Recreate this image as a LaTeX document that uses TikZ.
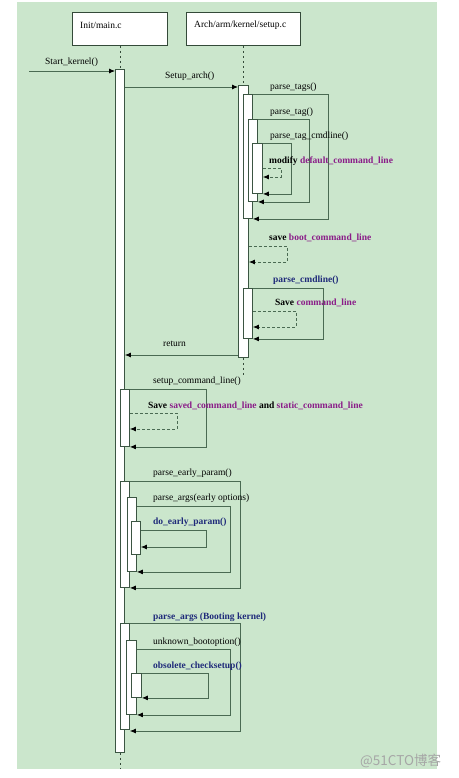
\documentclass[tikz,border=0pt]{standalone}
\usepackage{fontspec}
\setmainfont{Liberation Serif}
\newfontfamily\cjk{Noto Sans CJK SC}
\usetikzlibrary{arrows.meta}
\definecolor{bg}{HTML}{CBE6CC}
\definecolor{ln}{HTML}{4A6A52}
\definecolor{pur}{HTML}{8A1C88}
\definecolor{nav}{HTML}{1F2A7A}
\begin{document}
\begin{tikzpicture}[x=1pt,y=-1pt,
  act/.style={draw=ln!80!black, fill=white, line width=0.9pt, inner sep=0pt, anchor=north west, minimum width=9pt},
  head/.style={draw=ln!70!black, fill=white, line width=0.9pt, inner sep=0pt, anchor=north west, minimum height=33pt},
  msg/.style={draw=ln, line width=0.8pt, -{Latex[length=6pt,width=5pt,fill=black,color=black]}},
  dmsg/.style={msg, dash pattern=on 3pt off 2pt},
  life/.style={draw=ln!70!black, line width=0.9pt, dash pattern=on 2.5pt off 2.5pt},
  lbl/.style={anchor=west, inner sep=0pt, font=\fontsize{9.5}{11}\selectfont},
  blbl/.style={anchor=west, inner sep=0pt, font=\fontsize{9.5}{11}\selectfont\bfseries}
]
\useasboundingbox (0,0) rectangle (458,778);
\fill[white] (0,0) rectangle (458,778);
\fill[bg] (17,2) rectangle (437,769);

% headers
\node[head, minimum width=95pt] (mainH) at (72,12) {};
\node[head, minimum width=114pt] (setH) at (186,12) {};
\node[lbl] (mainHt) at (80,25) {Init/main.c};
\node[lbl] (setHt) at (194,25) {Arch/arm/kernel/setup.c};

% activations
\node[act, minimum height=683pt] (mainA) at (115,69) {};
\node[act, minimum width=10pt, minimum height=272pt] (setA) at (238,85) {};
\node[act, minimum height=124pt] (tagsA) at (243,94) {};
\node[act, minimum height=82pt] (tagA) at (248,119) {};
\node[act, minimum width=10pt, minimum height=50pt] (tcA) at (252,143) {};
\node[act, minimum height=50pt] (cmdA) at (243,288) {};
\node[act, minimum height=57pt] (sclA) at (120,389) {};
\node[act, minimum height=106pt] (epA) at (120,481) {};
\node[act, minimum height=74pt] (paA) at (127,497) {};
\node[act, minimum height=33pt] (depA) at (131,521) {};
\node[act, minimum height=106pt] (pbA) at (120,623) {};
\node[act, minimum width=10pt, minimum height=74pt] (ubA) at (126,640) {};
\node[act, minimum width=10pt, minimum height=24pt] (ocA) at (131,673) {};

% lifelines
\draw[life] (mainH.south) -- (mainA.north);
\draw[life] (setH.south) -- (setA.north);
\draw[life] (setA.south) -- ++(0,19);
\draw[life] (mainA.south) -- ++(0,16);

% messages
\coordinate (sk) at (29,71);
\draw[msg] (sk) -- (sk -| mainA.west);
\draw[msg] (mainA.east |- 0,87) -- (setA.west |- 0,87);
\draw[msg] (tagsA.north east) -- (328,94) |- (tagsA.south east);
\draw[msg] (tagA.north east) -- (309,119) |- (tagA.south east);
\draw[msg] (tcA.north east) -- (291,143) |- (tcA.south east);
\draw[dmsg] (tcA.east |- 0,168) -- (281,168) |- (tcA.east |- 0,177);
\draw[dmsg] (setA.east |- 0,246) -- (287,246) |- (setA.east |- 0,262);
\draw[msg] (cmdA.north east) -- (323,288) |- (cmdA.south east);
\draw[dmsg] (cmdA.east |- 0,311) -- (296,311) |- (cmdA.east |- 0,327);
\draw[msg] (setA.west |- 0,355) -- (mainA.east |- 0,355);
\draw[msg] (sclA.north east) -- (206,389) |- (sclA.south east);
\draw[dmsg] (sclA.east |- 0,413) -- (177,413) |- (sclA.east |- 0,429);
\draw[msg] (epA.north east) -- (240,481) |- (epA.south east);
\draw[msg] (paA.east |- 0,506) -- (230,506) |- (paA.south east);
\draw[msg] (depA.east |- 0,530) -- (206,530) |- (depA.east |- 0,547);
\draw[msg] (pbA.north east) -- (240,623) |- (pbA.east |- 0,731);
\draw[msg] (ubA.east |- 0,649) -- (230,649) |- (ubA.south east);
\draw[msg] (ocA.north east) -- (208,673) |- (ocA.south east);

% labels
\node[lbl] (l1) at (45,62) {Start\_kernel()};
\node[lbl] (l2) at (165,76) {Setup\_arch()};
\node[lbl] (l3) at (270,87) {parse\_tags()};
\node[lbl] (l4) at (270,112) {parse\_tag()};
\node[lbl] (l5) at (270,136) {parse\_tag\_cmdline()};
\node[blbl] (l6) at (269,161) {modify \textcolor{pur}{default\_command\_line}};
\node[blbl] (l7) at (269,238) {save \textcolor{pur}{boot\_command\_line}};
\node[blbl, text=nav] (l8) at (273,280) {parse\_cmdline()};
\node[blbl] (l9) at (275,303) {Save \textcolor{pur}{command\_line}};
\node[lbl] (l10) at (163,344) {return};
\node[lbl] (l11) at (153,381) {setup\_command\_line()};
\node[blbl] (l12) at (148,406) {Save \textcolor{pur}{saved\_command\_line} and \textcolor{pur}{static\_command\_line}};
\node[lbl] (l13) at (153,473) {parse\_early\_param()};
\node[lbl] (l14) at (153,498) {parse\_args(early options)};
\node[blbl, text=nav] (l15) at (153,522) {do\_early\_param()};
\node[blbl, text=nav] (l16) at (153,617) {parse\_args (Booting kernel)};
\node[lbl] (l17) at (153,642) {unknown\_bootoption()};
\node[blbl, text=nav] (l18) at (153,666) {obsolete\_checksetup()};

\node[anchor=west, inner sep=0pt, text=black!35, font=\cjk\fontsize{13.5}{15}\selectfont] (wm) at (360,761) {@51CTO博客};
\end{tikzpicture}
\end{document}
